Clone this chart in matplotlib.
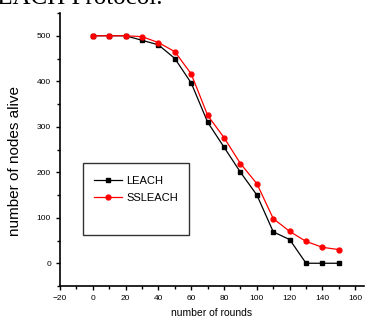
import matplotlib
matplotlib.use('Agg')
import matplotlib.pyplot as plt
from matplotlib.patches import Rectangle
from matplotlib.ticker import MultipleLocator

rounds = [0, 10, 20, 30, 40, 50, 60, 70, 80, 90, 100, 110, 120, 130, 140, 150]
leach = [500, 500, 500, 490, 480, 450, 396, 310, 255, 200, 150, 69, 52, 0, 0, 0]
ssleach = [500, 500, 500, 498, 485, 465, 416, 325, 276, 219, 175, 98, 70, 48, 35, 30]

plt.rcParams['font.family'] = ['Liberation Sans', 'DejaVu Sans']

fig = plt.figure(figsize=(3.69, 3.22), dpi=100)
ax = fig.add_axes([60/369, 1-286/322, 303.5/369, 273/322])

ax.plot(rounds, leach, color='black', marker='s', markersize=3.5, linewidth=0.9, label='LEACH')
ax.plot(rounds, ssleach, color='red', marker='o', markersize=3.5, linewidth=0.9, label='SSLEACH')

ax.set_xlim(-20, 165)
ax.set_ylim(-50, 550)
ax.xaxis.set_major_locator(MultipleLocator(20))
ax.xaxis.set_minor_locator(MultipleLocator(10))
ax.yaxis.set_major_locator(MultipleLocator(100))
ax.yaxis.set_minor_locator(MultipleLocator(50))
ax.set_yticks(range(0, 501, 100))
ax.tick_params(which='both', direction='out', labelsize=6, width=1)
ax.tick_params(which='major', length=3)
ax.tick_params(which='minor', length=2)
ax.spines['top'].set_visible(False)
ax.spines['right'].set_visible(False)
ax.spines['left'].set_linewidth(1.2)
ax.spines['bottom'].set_linewidth(1.2)

ax.set_xlabel('number of rounds', fontsize=7.5, labelpad=4)
ax.set_ylabel('number of nodes alive', fontsize=11)
ax.yaxis.set_label_coords(15/369, 0.5, transform=fig.transFigure)
ax.yaxis.label.set_va('center')

# legend frame drawn larger than the entries, as in the original
fig.patches.append(Rectangle((83/369, 1-235/322), 106/369, 72/322, transform=fig.transFigure,
                             fill=False, edgecolor='#333333', linewidth=1))
ax.legend(loc='upper left', bbox_to_anchor=(84/369, 1-166/322), bbox_transform=fig.transFigure,
          frameon=False, fontsize=8, handlelength=2.5, handletextpad=0.4, labelspacing=0.6)

fig.text(163/369, 1-4/322, 'LEACH Protocol.', fontsize=18, family='Liberation Serif',
         va='baseline', ha='right')

fig.savefig('out.png', dpi=100)
